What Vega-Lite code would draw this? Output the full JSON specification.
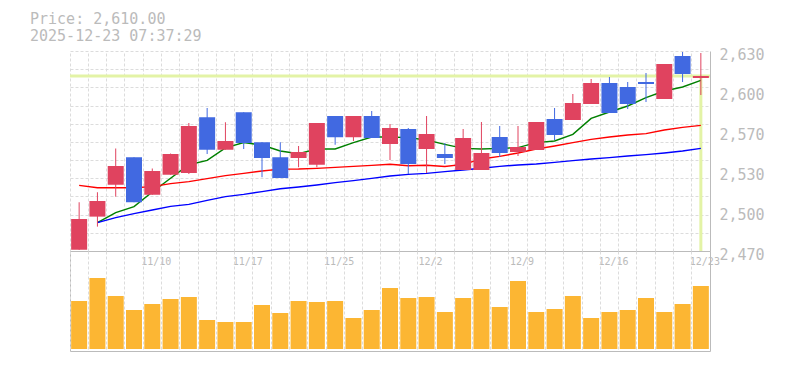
{
"$schema": "https://vega.github.io/schema/vega-lite/v6.json",
"background": "white",
"padding": {"left": 30, "top": 12, "right": 0, "bottom": 0},
"bounds": "flush",
"spacing": 0,
"title": {"text": ["Price: 2,610.00", "2025-12-23 07:37:29"], "anchor": "start", "frame": "group", "font": "DejaVu Sans Mono", "fontSize": 15, "fontWeight": "normal", "color": "#bbbbbb", "lineHeight": 17, "dx": -40, "offset": 3},
"config": {
  "view": {"stroke": null},
  "axis": {"labelFont": "DejaVu Sans Mono", "labelColor": "#bbbbbb", "domainColor": "#bbbbbb", "gridColor": "#dcdcdc", "gridDash": [3, 2], "ticks": false, "tickSize": 0, "title": null}
},
"datasets": {"px": [
{"date":"11/4","open":2471,"high":2509,"low":2471,"close":2495.6,"volume":48000,"ma5":null,"ma25":2522.5,"ma75":null},
{"date":"11/5","open":2497.5,"high":2517,"low":2489.5,"close":2510,"volume":71000,"ma5":2492.7,"ma25":2520.7,"ma75":2492.7},
{"date":"11/6","open":2523,"high":2552,"low":2513.5,"close":2538,"volume":53000,"ma5":2500.7,"ma25":2520.7,"ma75":2496.7},
{"date":"11/7","open":2545,"high":2545,"low":2509,"close":2509,"volume":39000,"ma5":2505.5,"ma25":2520.7,"ma75":2499.9},
{"date":"11/10","open":2515,"high":2536,"low":2515,"close":2534,"volume":45000,"ma5":2517.2,"ma25":2521.5,"ma75":2502.8},
{"date":"11/11","open":2531,"high":2548,"low":2531,"close":2547.6,"volume":50000,"ma5":2528.2,"ma25":2523.9,"ma75":2505.7},
{"date":"11/12","open":2532.4,"high":2572.4,"low":2531.6,"close":2570,"volume":52000,"ma5":2539,"ma25":2525.5,"ma75":2507.3},
{"date":"11/13","open":2577,"high":2584.4,"low":2547.6,"close":2551,"volume":29000,"ma5":2542.5,"ma25":2527.9,"ma75":2510.5},
{"date":"11/14","open":2551,"high":2573,"low":2551,"close":2558,"volume":27000,"ma5":2552.5,"ma25":2530.3,"ma75":2513.5},
{"date":"11/17","open":2581,"high":2581,"low":2551.6,"close":2556.4,"volume":27000,"ma5":2556.7,"ma25":2532.1,"ma75":2515.3},
{"date":"11/18","open":2557,"high":2557,"low":2529,"close":2544.4,"volume":44000,"ma5":2554.8,"ma25":2534,"ma75":2517.5},
{"date":"11/19","open":2545,"high":2557,"low":2528.4,"close":2528.4,"volume":36000,"ma5":2550,"ma25":2535.5,"ma75":2519.8},
{"date":"11/20","open":2544.4,"high":2554,"low":2537,"close":2549.2,"volume":48000,"ma5":2547.9,"ma25":2535.6,"ma75":2521.2},
{"date":"11/21","open":2539,"high":2572.4,"low":2537,"close":2572.4,"volume":47000,"ma5":2551.6,"ma25":2536.1,"ma75":2522.8},
{"date":"11/25","open":2578,"high":2578,"low":2555,"close":2561,"volume":48000,"ma5":2551.6,"ma25":2536.9,"ma75":2524.7},
{"date":"11/26","open":2561,"high":2578,"low":2558,"close":2578,"volume":31000,"ma5":2556.7,"ma25":2537.7,"ma75":2526.3},
{"date":"11/27","open":2578,"high":2582,"low":2560.4,"close":2560.4,"volume":39000,"ma5":2561.2,"ma25":2538.5,"ma75":2528.1},
{"date":"11/28","open":2555.6,"high":2571.6,"low":2542.8,"close":2568.4,"volume":61000,"ma5":2561.2,"ma25":2539.3,"ma75":2530},
{"date":"12/1","open":2567.6,"high":2568.4,"low":2531.6,"close":2539.6,"volume":51000,"ma5":2560.7,"ma25":2538.3,"ma75":2531.3},
{"date":"12/2","open":2551.6,"high":2578,"low":2532.4,"close":2563.6,"volume":52000,"ma5":2558.8,"ma25":2538.5,"ma75":2532.1},
{"date":"12/3","open":2547.6,"high":2556.4,"low":2539.6,"close":2544.4,"volume":37000,"ma5":2555.3,"ma25":2537.7,"ma75":2533.5},
{"date":"12/4","open":2534.8,"high":2567.6,"low":2534.8,"close":2560.4,"volume":51000,"ma5":2552.1,"ma25":2539.3,"ma75":2534.8},
{"date":"12/5","open":2534.8,"high":2573.2,"low":2534.8,"close":2548.4,"volume":60000,"ma5":2551.6,"ma25":2543.6,"ma75":2536.2},
{"date":"12/8","open":2561.2,"high":2570,"low":2545.2,"close":2548.4,"volume":42000,"ma5":2552.1,"ma25":2545.7,"ma75":2537.7},
{"date":"12/9","open":2549.2,"high":2570,"low":2546,"close":2553.2,"volume":68000,"ma5":2552.7,"ma25":2548.4,"ma75":2538.8},
{"date":"12/10","open":2550.8,"high":2573.2,"low":2550.8,"close":2573.2,"volume":37000,"ma5":2556.7,"ma25":2551.6,"ma75":2539.6},
{"date":"12/11","open":2575.6,"high":2584.4,"low":2558.8,"close":2562.8,"volume":40000,"ma5":2558,"ma25":2554,"ma75":2540.9},
{"date":"12/12","open":2574.8,"high":2595.6,"low":2574.8,"close":2588.4,"volume":53000,"ma5":2563.3,"ma25":2556.7,"ma75":2542.3},
{"date":"12/15","open":2587.6,"high":2607.6,"low":2587.6,"close":2604.4,"volume":31000,"ma5":2576.1,"ma25":2559.3,"ma75":2543.6},
{"date":"12/16","open":2604.4,"high":2609.2,"low":2580.4,"close":2580.4,"volume":37000,"ma5":2581.2,"ma25":2561.2,"ma75":2544.7},
{"date":"12/17","open":2601.2,"high":2605.2,"low":2583.6,"close":2587.6,"volume":39000,"ma5":2586,"ma25":2562.8,"ma75":2546},
{"date":"12/18","open":2605.2,"high":2612.4,"low":2589.2,"close":2603.6,"volume":51000,"ma5":2592.7,"ma25":2563.9,"ma75":2547.1},
{"date":"12/19","open":2591.6,"high":2619.6,"low":2591.6,"close":2619.6,"volume":37000,"ma5":2598,"ma25":2566.8,"ma75":2548.4},
{"date":"12/22","open":2626,"high":2629.2,"low":2605.2,"close":2611.6,"volume":45000,"ma5":2601.2,"ma25":2568.9,"ma75":2550},
{"date":"12/23","open":2608.4,"high":2628.4,"low":2594.8,"close":2610,"volume":63000,"ma5":2606.5,"ma25":2570.5,"ma75":2552.1}
]},
"vconcat": [
{
  "width": 640, "height": 200,
  "data": {"name": "px"},
  "resolve": {"axis": {"x": "independent", "y": "independent"}},
  "layer": [
    {
      "transform": [{"filter": "datum.date == '12/23'"}],
      "mark": {"type": "rule", "color": "#e3f3a6", "strokeWidth": 3},
      "encoding": {
        "y": {"field": "close", "type": "quantitative", "scale": {"domain": [2470, 2630], "zero": false, "nice": false},
              "axis": {"orient": "left", "values": [2470, 2484.545, 2499.091, 2513.636, 2528.182, 2542.727, 2557.273, 2571.818, 2586.364, 2600.909, 2615.455, 2630], "labels": false, "ticks": false, "domain": false, "grid": true}}
      }
    },
    {
      "transform": [{"filter": "datum.date == '12/23'"}],
      "mark": {"type": "rule", "color": "#e3f3a6", "strokeWidth": 3},
      "encoding": {
        "x": {"field": "date", "type": "ordinal", "sort": null,
              "scale": {"type": "band", "paddingInner": 0, "paddingOuter": 0, "domain": ["11/4","11/5","11/6","11/7","11/10","11/11","11/12","11/13","11/14","11/17","11/18","11/19","11/20","11/21","11/25","11/26","11/27","11/28","12/1","12/2","12/3","12/4","12/5","12/8","12/9","12/10","12/11","12/12","12/15","12/16","12/17","12/18","12/19","12/22","12/23"]},
              "axis": {"orient": "top", "labels": false, "ticks": false, "domain": false, "grid": true, "bandPosition": 0}},
        "y": {"field": "close", "type": "quantitative", "axis": null},
        "y2": {"datum": 2470}
      }
    },
    {
      "transform": [{"fold": ["ma5", "ma25", "ma75"], "as": ["ma", "v"]}],
      "mark": {"type": "line", "strokeWidth": 1.5},
      "encoding": {
        "x": {"field": "date", "type": "ordinal", "sort": null,
              "scale": {"type": "band", "paddingInner": 0, "paddingOuter": 0, "domain": ["11/4","11/5","11/6","11/7","11/10","11/11","11/12","11/13","11/14","11/17","11/18","11/19","11/20","11/21","11/25","11/26","11/27","11/28","12/1","12/2","12/3","12/4","12/5","12/8","12/9","12/10","12/11","12/12","12/15","12/16","12/17","12/18","12/19","12/22","12/23"]},
              "axis": null},
        "y": {"field": "v", "type": "quantitative", "axis": null},
        "color": {"field": "ma", "type": "nominal", "scale": {"domain": ["ma5", "ma25", "ma75"], "range": ["#008000", "#ff0000", "#0000ff"]}, "legend": null}
      }
    },
    {
      "mark": {"type": "rule", "strokeWidth": 1},
      "encoding": {
        "x": {"field": "date", "type": "ordinal", "sort": null,
              "scale": {"type": "band", "paddingInner": 0, "paddingOuter": 0, "domain": ["11/4","11/5","11/6","11/7","11/10","11/11","11/12","11/13","11/14","11/17","11/18","11/19","11/20","11/21","11/25","11/26","11/27","11/28","12/1","12/2","12/3","12/4","12/5","12/8","12/9","12/10","12/11","12/12","12/15","12/16","12/17","12/18","12/19","12/22","12/23"]},
              "axis": {"orient": "bottom", "values": ["11/10", "11/17", "11/25", "12/2", "12/9", "12/16", "12/23"], "labelFontSize": 10, "labelOffset": 4, "labelPadding": 5, "labelAngle": 0, "ticks": false, "tickSize": 0, "grid": false, "domain": true}},
        "y": {"field": "low", "type": "quantitative",
              "axis": {"orient": "right", "values": [2470, 2502, 2534, 2566, 2598, 2630], "labelExpr": "format(round(datum.value / 10) * 10, ',')", "labelFontSize": 15, "labelPadding": 9, "labelOffset": 3, "ticks": false, "tickSize": 0, "grid": false, "domain": true}},
        "y2": {"field": "high"},
        "color": {"condition": {"test": "datum.close >= datum.open", "value": "#e0435f"}, "value": "#4169e1"}
      }
    },
    {
      "mark": {"type": "bar", "size": 16},
      "encoding": {
        "x": {"field": "date", "type": "ordinal", "sort": null,
              "scale": {"type": "band", "paddingInner": 0, "paddingOuter": 0, "domain": ["11/4","11/5","11/6","11/7","11/10","11/11","11/12","11/13","11/14","11/17","11/18","11/19","11/20","11/21","11/25","11/26","11/27","11/28","12/1","12/2","12/3","12/4","12/5","12/8","12/9","12/10","12/11","12/12","12/15","12/16","12/17","12/18","12/19","12/22","12/23"]},
              "axis": null},
        "y": {"field": "open", "type": "quantitative", "axis": null},
        "y2": {"field": "close"},
        "color": {"condition": {"test": "datum.close >= datum.open", "value": "#e0435f"}, "value": "#4169e1"}
      }
    }
  ]
},
{
  "width": 640, "height": 100,
  "data": {"name": "px"},
  "view": {"stroke": "#bbbbbb", "strokeWidth": 1},
  "mark": {"type": "bar", "size": 16, "color": "#fcb633"},
  "encoding": {
    "x": {"field": "date", "type": "ordinal", "sort": null,
          "scale": {"type": "band", "paddingInner": 0, "paddingOuter": 0},
          "axis": {"orient": "bottom", "labels": false, "ticks": false, "domain": false, "grid": true, "bandPosition": 0}},
    "y": {"field": "volume", "type": "quantitative", "scale": {"domain": [-2000, 98000], "zero": false, "nice": false}, "axis": null}
  }
}
]
}
